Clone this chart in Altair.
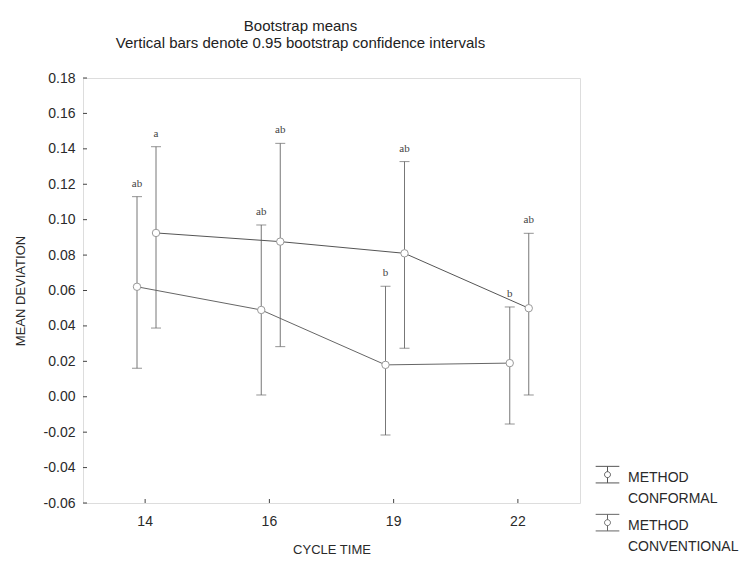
import altair as alt
import pandas as pd

cycle_time = ["14", "16", "19", "22"]
methods = ["METHOD CONFORMAL", "METHOD CONVENTIONAL"]

conf_mean = [0.0925, 0.0876, 0.081, 0.050]
conf_low = [0.0388, 0.0283, 0.0274, 0.001]
conf_high = [0.1412, 0.1431, 0.1328, 0.0923]
conf_letters = ["a", "ab", "ab", "ab"]

conv_mean = [0.0621, 0.049, 0.018, 0.019]
conv_low = [0.0161, 0.001, -0.0216, -0.0154]
conv_high = [0.113, 0.097, 0.0624, 0.0507]
conv_letters = ["ab", "ab", "b", "b"]

y_tick_values = [-0.06, -0.04, -0.02, 0.0, 0.02, 0.04, 0.06, 0.08, 0.10, 0.12, 0.14, 0.16, 0.18]

rows = []
for i, c in enumerate(cycle_time):
    rows.append(dict(cycle=c, method=methods[0], mean=conf_mean[i], low=conf_low[i],
                     high=conf_high[i], letter=conf_letters[i]))
for i, c in enumerate(cycle_time):
    rows.append(dict(cycle=c, method=methods[1], mean=conv_mean[i], low=conv_low[i],
                     high=conv_high[i], letter=conv_letters[i]))
df = pd.DataFrame(rows)

W, H = 497, 425
FONT = "Liberation Sans"
TXT = "#2a2a2a"

x_scale = alt.Scale(paddingInner=0, paddingOuter=0)
x_axis = alt.Axis(title="CYCLE TIME", labelAngle=0, ticks=False, domain=False,
                  labelFontSize=14, labelFont=FONT, labelColor=TXT, labelPadding=11,
                  titleFontSize=13, titleFont=FONT, titleColor=TXT,
                  titleFontWeight="normal", titlePadding=15, grid=False)
x_enc = alt.X("cycle:O", sort=cycle_time, scale=x_scale, axis=x_axis)
xoff = alt.XOffset("method:N", scale=alt.Scale(type="point", domain=methods[::-1],
                                                range=[54, 73], padding=0))
y_scale = alt.Scale(domain=[-0.06, 0.18], nice=False, zero=False)
y_axis = alt.Axis(title="MEAN DEVIATION", values=y_tick_values,
                  labelExpr="replace(format(datum.value, '.2f'), '\u2212', '-')",
                  labelOverlap=False,
                  ticks=False, domain=False, grid=False,
                  labelFontSize=14, labelFont=FONT, labelColor=TXT, labelPadding=8,
                  titleFontSize=13, titleFont=FONT, titleColor=TXT,
                  titleFontWeight="normal", titlePadding=16)

base = alt.Chart(df)

bars = base.mark_rule(color="#777777", strokeWidth=1).encode(
    x=x_enc, xOffset=xoff, y=alt.Y("low:Q", scale=y_scale, axis=y_axis), y2="high:Q")
cap_hi = base.mark_tick(color="#666666", size=10, thickness=1).encode(
    x=x_enc, xOffset=xoff, y=alt.Y("high:Q", scale=y_scale, axis=y_axis))
cap_lo = base.mark_tick(color="#666666", size=10, thickness=1).encode(
    x=x_enc, xOffset=xoff, y=alt.Y("low:Q", scale=y_scale, axis=y_axis))

legend_symbol = ("M-1,-0.35H1M-1,1.05H1M0,-0.35V0.1M0,0.6V1.05"
                 "M-0.25,0.35A0.25,0.25 0 1,0 0.25,0.35A0.25,0.25 0 1,0 -0.25,0.35")
lines = base.mark_line(strokeWidth=1).encode(
    x=x_enc, xOffset=xoff,
    y=alt.Y("mean:Q", scale=y_scale, axis=y_axis),
    color=alt.Color("method:N", scale=alt.Scale(domain=methods, range=["#555555", "#666666"]),
                    legend=alt.Legend(title=None, orient="none", legendX=512, legendY=380,
                                      symbolType=legend_symbol, symbolSize=560,
                                      symbolStrokeWidth=1, symbolFillColor="white",
                                      labelExpr="split(datum.label, ' ')",
                                      labelFont=FONT, labelFontSize=14, labelColor=TXT,
                                      labelBaseline="top", labelOffset=8, labelLimit=200,
                                      rowPadding=0, padding=0)),
    detail="method:N")
points = base.mark_point(filled=True, fill="white", stroke="#999999", strokeWidth=1,
                         size=55, opacity=1, shape="circle").encode(
    x=x_enc, xOffset=xoff, y=alt.Y("mean:Q", scale=y_scale, axis=y_axis))
letters = base.mark_text(font="Liberation Serif", fontSize=11, color="#444444", dy=-8,
                         baseline="bottom").encode(
    x=x_enc, xOffset=xoff, y=alt.Y("high:Q", scale=y_scale, axis=y_axis), text="letter:N")

ytick_df = pd.DataFrame({"v": y_tick_values})
yticks = alt.Chart(ytick_df).mark_rule(color="#444444", strokeWidth=1).encode(
    y=alt.Y("v:Q", scale=y_scale, axis=y_axis), x=alt.value(0), x2=alt.value(4))
xtick_df = pd.DataFrame({"cycle": cycle_time})
xticks = alt.Chart(xtick_df).mark_rule(color="#444444", strokeWidth=1).encode(
    x=alt.X("cycle:O", sort=cycle_time, scale=x_scale, axis=x_axis),
    y=alt.value(H), y2=alt.value(H - 4))

chart = alt.layer(yticks, xticks, bars, cap_hi, cap_lo, lines, points, letters).properties(
    width=W, height=H,
    title=alt.TitleParams(text="Bootstrap means",
                          subtitle="Vertical bars denote 0.95 bootstrap confidence intervals",
                          font=FONT, fontSize=15, fontWeight="normal", color="#222222",
                          subtitleFont=FONT, subtitleFontSize=15, subtitleColor="#222222",
                          anchor="middle", dx=-31, offset=20, subtitlePadding=2),
    autosize=alt.AutoSizeParams(type="none"),
    padding={"left": 75, "top": 70, "right": 159, "bottom": 56},
).configure_view(stroke="#333333", strokeWidth=1).configure_axisY(
    labelOverlap=False
).configure(background="white", style={"guide-label": {"lineHeight": 21}})

chart.save("out.html", embed_options={"renderer": "svg", "actions": False})
